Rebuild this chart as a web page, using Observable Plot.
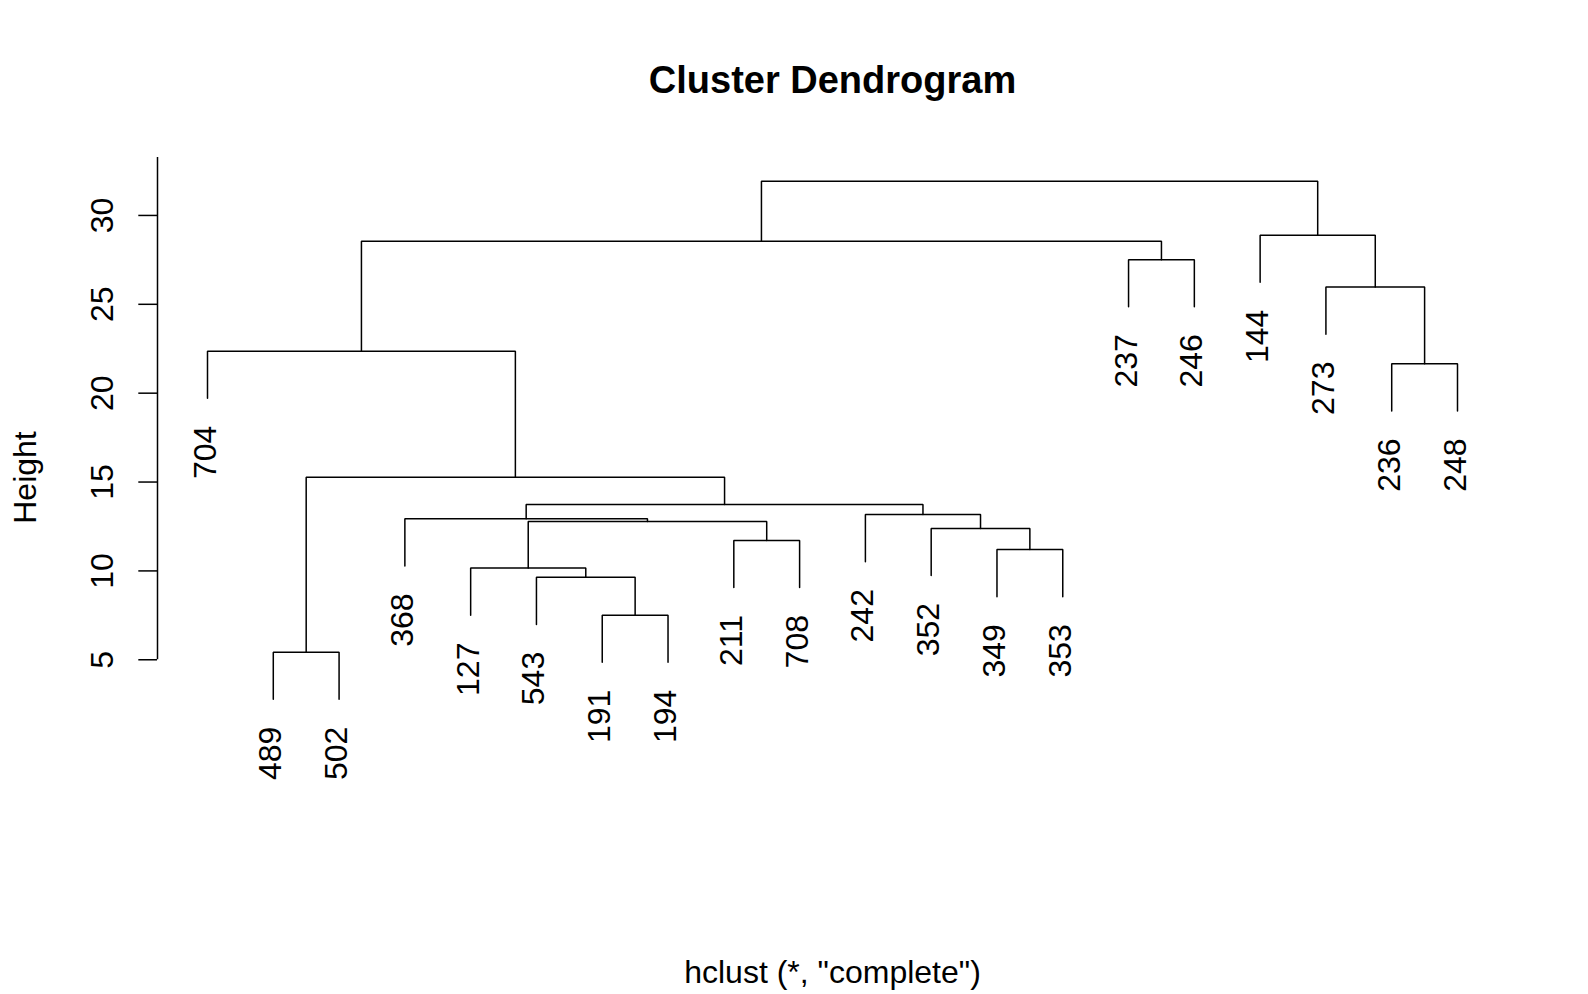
<!DOCTYPE html>
<html><head><meta charset="utf-8">
<script src="https://cdn.jsdelivr.net/npm/d3@7"></script>
<script src="https://cdn.jsdelivr.net/npm/@observablehq/plot@0.6"></script>
<style>html,body{margin:0;padding:0;background:#fff;} svg{display:block}</style>
</head><body><div id="chart"></div>
<script>
// Leaf labels in dendrogram order (left to right)
const leafLabels = ["704","489","502","368","127","543","191","194","211","708",
                    "242","352","349","353","237","246","144","273","236","248"];
// hclust-style merge table: negative = leaf (1-based position), positive = earlier merge row
const mergeLeft   = [-2, -7, -6, -5, -13, -9, -12, 4, -4, -11, 9, 1, -19, -1, -18, -15, 14, -17, 17];
const mergeRight  = [-3, -8,  2,  3, -14, -10, 5, 6,  8,   7, 10, 11, -20, 12, 13, -16, 16, 15, 18];
const mergeHeight = [5.43, 7.51, 9.64, 10.16, 11.20, 11.71, 12.39, 12.78, 12.93, 13.17,
                     13.74, 15.27, 21.65, 22.36, 25.97, 27.51, 28.55, 28.89, 31.93];
const yTicks = [5, 10, 15, 20, 25, 30];
const titleText = "Cluster Dendrogram";
const xLabelText = 'hclust (*, "complete")';
const yLabelText = "Height";

const hang = 0.1 * (d3.max(mergeHeight) - d3.min(mergeHeight));
const nodeX = [];
const segs = [];
const leaves = [];
function child(c, h) {
  if (c < 0) {
    const i = -c - 1;
    const yb = h - hang;
    leaves.push({x: i, y: yb, label: leafLabels[i]});
    return {x: i, y: yb};
  }
  return {x: nodeX[c - 1], y: mergeHeight[c - 1]};
}
mergeHeight.forEach((h, k) => {
  const a = child(mergeLeft[k], h), b = child(mergeRight[k], h);
  nodeX[k] = (a.x + b.x) / 2;
  segs.push({z: k, x: a.x, y: a.y}, {z: k, x: a.x, y: h}, {z: k, x: b.x, y: h}, {z: k, x: b.x, y: b.y});
});

const n = leafLabels.length;
const xDomain = [-0.04 * (n - 1), (n - 1) * 1.04];
const yDomain = [-2.58, 33.26];

const chart = Plot.plot({
  width: 1588, height: 994,
  marginLeft: 157, marginRight: 81, marginTop: 157, marginBottom: 200,
  x: {domain: xDomain, axis: null},
  y: {domain: yDomain},
  style: {fontFamily: "'Liberation Sans', Arial, sans-serif", fontSize: "32px", background: "#fff", color: "#000"},
  marks: [
    Plot.line(segs, {x: "x", y: "y", z: "z", stroke: "#000", strokeWidth: 1.5, strokeLinejoin: "miter", strokeLinecap: "round"}),
    Plot.ruleX([xDomain[0]], {y1: yTicks[0], y2: yDomain[1], stroke: "#000", strokeWidth: 1.5}),
    Plot.axisY(yTicks, {tickSize: 18.7, tickPadding: 25.6, tickRotate: -90, fontSize: 32, label: null, stroke: "#000", strokeWidth: 1.5, fill: "#000"}),
    Plot.text(leaves, {x: "x", y: "y", text: "label", rotate: -90, textAnchor: "end", lineAnchor: "bottom", dx: 8, dy: 27.4, fontSize: 32, fill: "#000"}),
    Plot.text([titleText], {frameAnchor: "top", dy: -64.5, lineAnchor: "bottom", fontWeight: "bold", fontSize: 38, fill: "#000"}),
    Plot.text([xLabelText], {frameAnchor: "bottom", dy: 188.5, lineAnchor: "bottom", fontSize: 32, fill: "#000"}),
    Plot.text([yLabelText], {frameAnchor: "left", rotate: -90, dx: -121.5, dy: 1.5, lineAnchor: "bottom", textAnchor: "middle", fontSize: 32, fill: "#000"})
  ]
});
document.getElementById("chart").appendChild(chart);
</script>
</body></html>
